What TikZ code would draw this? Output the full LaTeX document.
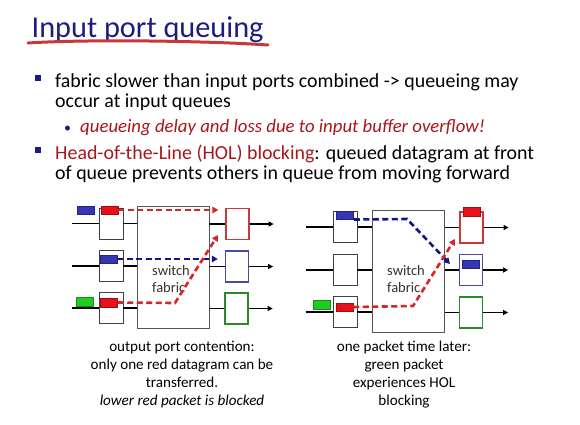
\documentclass[tikz,border=0pt]{standalone}
\usepackage{fontspec}
\setmainfont{Carlito}
\usetikzlibrary{arrows.meta}
\definecolor{navy}{HTML}{1B1B82}
\definecolor{ulred}{HTML}{C8373A}
\definecolor{holred}{HTML}{A8161C}
\definecolor{pktred}{HTML}{E8111B}
\definecolor{pktblue}{HTML}{3535B5}
\definecolor{pktgreen}{HTML}{1FCC22}
\definecolor{outred}{HTML}{C83A3A}
\definecolor{outblue}{HTML}{4A4AA0}
\definecolor{outgreen}{HTML}{2A8A2A}
\definecolor{dashred}{HTML}{D42626}
\definecolor{dashblue}{HTML}{14148A}
\definecolor{fabgray}{HTML}{555555}

\begin{document}
\begin{tikzpicture}[x=1pt, y=-1pt]
  \tikzstyle{bullet}=[rectangle, fill=navy, inner sep=0pt, minimum size=6pt]
  \tikzstyle{para}=[anchor=base west, align=left, inner sep=0pt, font=\fontsize{19.9}{20}\selectfont]
  \tikzstyle{fabric}=[rectangle, draw=fabgray, line width=0.9pt, minimum width=72pt, minimum height=122pt]
  \tikzstyle{inq}=[rectangle, draw=black!75, line width=0.9pt, minimum width=24pt, minimum height=31pt, inner sep=0pt]
  \tikzstyle{outq}=[rectangle, line width=1.3pt, minimum width=23pt, minimum height=31pt, inner sep=0pt]
  \tikzstyle{pkt}=[rectangle, line width=0.5pt, minimum width=17pt, minimum height=8.5pt, inner sep=0pt]
  \tikzstyle{wire}=[line width=1.5pt]
  \tikzstyle{outwire}=[line width=1.5pt, -{Triangle[length=5pt, width=5pt]}]
  \tikzstyle{flow}=[line width=2.6pt, dash pattern=on 6pt off 3.5pt, -{Triangle[length=6pt, width=6.5pt]}]
  \tikzstyle{fablabel}=[align=left, text=black!80, inner sep=0pt, font=\fontsize{14.5}{17}\selectfont]
  \tikzstyle{caption}=[align=center, anchor=north, inner sep=0pt, font=\fontsize{15.1}{18.2}\selectfont]

  \useasboundingbox (0,0) rectangle (580,424);

  % title
  \node[anchor=base west, inner sep=0pt, text=navy, font=\fontsize{30.3}{31}\selectfont] (title) at (31.5,37) {Input port queuing};
  \draw[ulred, line width=3pt, line cap=round] (28,43) .. controls (90,39) and (210,41) .. (268,45);

  % bullets (multi-line paragraphs sit on the baseline of their last line)
  \node[bullet] (b1) at (38,77.5) {};
  \node[para] (t1) at (55,107) {fabric slower than input ports combined -> queueing may\\occur at input queues};
  \node[anchor=base, inner sep=0pt, text=navy, font=\fontsize{14}{14}\selectfont] (b2) at (67.5,132.5) {\textbullet};
  \node[para, text=holred, font=\fontsize{18.8}{20}\selectfont\itshape] (t2) at (80,132.5) {queueing delay and loss due to input buffer overflow!};
  \node[bullet] (b3) at (38,150) {};
  \node[para] (t3) at (55,179) {\textcolor{holred}{Head-of-the-Line (HOL) blocking}: queued datagram at front\\of queue prevents others in queue from moving forward};

  % left switch
  \node[fabric] (lfab) at (173,267) {};
  \node[fablabel] (llab) at (171,279.5) {switch\\fabric};
  \node[inq] (lin1) at (111,223.5) {};
  \node[inq] (lin2) at (111,266) {};
  \node[inq] (lin3) at (111,308) {};
  \node[outq, draw=outred] (lout1) at (237.5,224) {};
  \node[outq, draw=outblue] (lout2) at (237,266.5) {};
  \node[outq, draw=outgreen] (lout3) at (236.5,308.5) {};
  \foreach \i in {1,2,3} {
    \path (lin\i.west) ++(-27,0) coordinate (lsrc\i);
    \path (lout\i.east) ++(24,0) coordinate (ldst\i);
    \draw[wire] (lsrc\i) -- (lin\i.west);
    \draw[wire] (lin\i.east) -- (lin\i.east -| lfab.west);
    \draw[wire] (lout\i.west -| lfab.east) -- (lout\i.west);
    \draw[outwire] (lout\i.east) -- (ldst\i);
  }
  \node[pkt, fill=pktblue, draw=pktblue!70!black] (lpb1) at (85.5,210) {};
  \node[pkt, fill=pktred, draw=pktred!70!black] (lpr1) at (109.5,210) {};
  \node[pkt, fill=pktblue, draw=pktblue!70!black] (lpb2) at (108.5,259) {};
  \node[pkt, fill=pktgreen, draw=pktgreen!70!black] (lpg3) at (85,301.5) {};
  \node[pkt, fill=pktred, draw=pktred!70!black] (lpr3) at (109,302.5) {};
  \coordinate (lbend) at (175,303);
  \coordinate (lend) at (218,235);
  \draw[flow, dashred] (lpr1.east) -- ([xshift=-7pt]lpr1.east -| lout1.west);
  \draw[flow, dashblue] (lpb2.east) -- ([xshift=-7pt]lpb2.east -| lout2.west);
  \draw[flow, dashred] (lpr3.east) -- (lbend) -- (lend);

  % right switch
  \node[fabric] (rfab) at (408.5,271) {};
  \node[fablabel] (rlab) at (406,279.5) {switch\\fabric};
  \node[inq] (rin1) at (345.5,227) {};
  \node[inq] (rin2) at (345,270) {};
  \node[inq] (rin3) at (345,312) {};
  \node[outq, draw=outred] (rout1) at (471.5,227.5) {};
  \node[outq, draw=outblue] (rout2) at (471,270) {};
  \node[outq, draw=outgreen] (rout3) at (471,312.5) {};
  \foreach \i in {1,2,3} {
    \path (rin\i.west) ++(-27,0) coordinate (rsrc\i);
    \path (rout\i.east) ++(25,0) coordinate (rdst\i);
    \draw[wire] (rsrc\i) -- (rin\i.west);
    \draw[wire] (rin\i.east) -- (rin\i.east -| rfab.west);
    \draw[wire] (rout\i.west -| rfab.east) -- (rout\i.west);
    \draw[outwire] (rout\i.east) -- (rdst\i);
  }
  \node[pkt, fill=pktblue, draw=pktblue!70!black] (rpb1) at (345,215) {};
  \node[pkt, fill=pktred, draw=pktred!70!black] (rpr1) at (472,211.5) {};
  \node[pkt, fill=pktblue, draw=pktblue!70!black] (rpb2) at (471,264) {};
  \node[pkt, fill=pktgreen, draw=pktgreen!70!black] (rpg3) at (321.5,304.5) {};
  \node[pkt, fill=pktred, draw=pktred!70!black] (rpr3) at (344.5,307) {};
  \coordinate (rbbend) at (407,219);
  \coordinate (rbend) at (450,264);
  \coordinate (rrbend) at (413,306);
  \coordinate (rrend) at (455,239);
  \draw[flow, dashblue] (rpb1.south east) -- (rbbend) -- (rbend);
  \draw[flow, dashred] (rpr3.east) -- (rrbend) -- (rrend);

  % captions
  \node[caption] (lcap) at (182,340.5) {output port contention:\\only one red datagram can be\\transferred.\\\textit{lower red packet is blocked}};
  \node[caption] (rcap) at (404,340.5) {one packet time later:\\green packet\\experiences HOL\\blocking};
\end{tikzpicture}
\end{document}
